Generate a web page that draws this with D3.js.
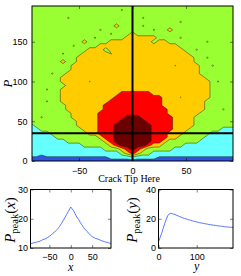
<!DOCTYPE html>
<html>
<head>
<meta charset="utf-8">
<script src="https://cdn.jsdelivr.net/npm/d3@7"></script>
<style>
html, body { margin: 0; padding: 0; background: #fff; }
svg { display: block; }
</style>
</head>
<body>
<svg id="chart" width="241" height="276"></svg>
<script>
var svg = d3.select("#chart"),
    sans = "'Liberation Sans', Arial, Helvetica, sans-serif",
    serif = "'Liberation Serif', 'Times New Roman', serif";

// sample grid of the contour map (5 units apart)
var gridX = d3.range(-95, 100, 5),
    gridY = d3.range(0, 200, 5);

// level of each sample, row by row (y = 0, 5, ... 195): [level, fromX, toX] painted in order
// 0 blue, 1 cyan, 2 green, 3 gold, 4 red, 5 dark red
var levelRows = [
    [],
    [[0.45, -95, 95], [1, -20, 20], [0, -85, -85], [1.5, 0, 0]],
    [[1, -95, 95], [2, -10, 15], [3, -5, 5], [4, 0, 0]],
    [[1, -95, 95], [2, -25, 35], [3, -10, 10], [4, -5, 5], [5, 0, 0]],
    [[1, -95, 95], [2, -45, 45], [3, -20, 25], [4, -15, 15], [5, -10, 10]],
    [[1, -95, 95], [2, -60, 60], [3, -25, 30], [4, -20, 25], [5, -15, 15]],
    [[1, -95, 95], [2, -70, 65], [3, -30, 40], [4, -25, 30], [5, -15, 15]],
    [[1, -95, 95], [2, -75, 70], [3, -40, 45], [4, -30, 30], [5, -15, 15]],
    [[1, -95, 95], [2, -85, 80], [3, -45, 50], [4, -30, 35], [5, -15, 15]],
    [[2, -95, 95], [1, -95, -95], [3, -50, 55], [4, -30, 35], [5, -15, 15]],
    [[2, -95, 95], [3, -50, 55], [4, -30, 35], [5, -10, 10]],
    [[2, -95, 95], [3, -55, 55], [4, -30, 35], [5, -5, 5], [2.6, -85, -85]],
    [[2, -95, 95], [3, -55, 60], [4, -30, 30]],
    [[2, -95, 95], [3, -60, 65], [4, -25, 30], [2.6, 85, 85]],
    [[2, -95, 95], [3, -60, 65], [4, -25, 25]],
    [[2, -95, 95], [3, -65, 65], [4, -20, 25], [2.6, -80, -80]],
    [[2, -95, 95], [3, -65, 70], [4, -15, 25], [2.45, 45, 45]],
    [[2, -95, 95], [3, -65, 70], [4, -10, 15]],
    [[2, -95, 95], [3, -65, 70], [2.6, -80, -80]],
    [[2, -95, 95], [3, -65, 70], [2, -65, -65]],
    [[2, -95, 95], [3, -65, 70], [2.45, -40, -40], [2.6, 80, 80]],
    [[2, -95, 95], [3, -65, 65]],
    [[2, -95, 95], [3, -60, 65], [2, 65, 65], [2.6, -75, -75]],
    [[2, -95, 95], [3, -55, 60]],
    [[2, -95, 95], [3, -55, 60], [2.45, 40, 40], [2.6, 75, 75]],
    [[2, -95, 95], [3, -50, 55], [3, -65, -65]],
    [[2, -95, 95], [3, -50, 55], [2.6, 70, 70]],
    [[2, -95, 95], [3, -45, 50], [2.45, -20, -20], [2.6, -65, -65]],
    [[2, -95, 95], [3, -40, 45], [2, -25, -25], [2.6, 60, 60]],
    [[2, -95, 95], [3, -30, 40], [2.6, -55, -55]],
    [[2, -95, 95], [3, -20, 30], [2, 20, 20], [3, -45, -45], [2.6, 70, 70]],
    [[2, -95, 95], [3, -5, 20], [2.6, -35, -35], [2.6, 45, 45]],
    [[2, -95, 95], [3, 0, 0], [2.6, -20, -20]],
    [[2, -95, 95], [3, 35, 35], [2.6, -30, -30], [2.6, 20, 20]],
    [[2, -95, 95], [3, -15, -15], [2.6, 10, 10]],
    [[2, -95, 95], [2.6, 45, 45]],
    [[2, -95, 95], [2.6, 10, 10], [2.6, -60, -60]],
    [[2, -95, 95]],
    [[2, -95, 95], [2.6, -10, -10]],
    [[2, -95, 95]]
];
var levelColors = ["#2f55e0", "#66ffff", "#99ff33", "#ffcc00", "#ff0000", "#6b0000"];
var crackX = 0, crackY = 35;

// peak profile along the horizontal line
var peakXPos = [-94, -90, -86, -82, -78, -74, -70, -66, -62, -58, -54, -50, -46, -42, -38, -34, -30, -26,
    -22, -18, -14, -10, -6, -2, 0, 2, 6, 10, 14, 18, 22, 26, 30, 34, 38, 42, 46, 50, 54, 58, 62, 66, 70,
    74, 78, 82, 86, 90, 94];
var peakXVal = [11.4, 11.6, 11.8, 11.9, 12.1, 12.2, 12.5, 12.8, 13.0, 13.2, 13.6, 14.0, 14.4, 15.0, 15.4,
    16.0, 16.6, 17.4, 18.3, 19.3, 20.3, 21.4, 22.4, 23.5, 24.0, 23.6, 22.9, 21.8, 20.6, 19.8, 18.8, 17.9,
    17.0, 16.3, 15.7, 15.0, 14.4, 13.9, 13.6, 13.3, 13.1, 12.9, 12.6, 12.4, 12.2, 12.0, 11.9, 11.7, 11.5];

// peak profile along the vertical line
var peakYPos = [0, 4, 8, 12, 16, 20, 24, 28, 32, 36, 40, 44, 48, 52, 56, 60, 64, 68, 72, 76, 80, 84, 88,
    92, 96, 100, 104, 108, 112, 116, 120, 124, 128, 132, 136, 140, 144, 148, 152, 156, 160, 164, 168, 172,
    176, 180, 184, 188, 192, 195];
var peakYVal = [4.2, 7.0, 9.9, 13.2, 16.5, 19.4, 22.0, 23.3, 23.7, 23.5, 23.1, 22.8, 22.3, 21.9, 21.4,
    21.0, 20.6, 20.2, 19.9, 19.5, 19.2, 19.0, 18.6, 18.3, 18.1, 17.8, 17.5, 17.3, 17.1, 16.9, 16.7, 16.5,
    16.3, 16.1, 15.9, 15.8, 15.6, 15.5, 15.3, 15.2, 15.0, 14.9, 14.8, 14.6, 14.5, 14.4, 14.3, 14.2, 14.1, 14.0];

var mainXTicks = [-50, 0, 50], mainYTicks = [0, 50, 100, 150],
    leftXTicks = [-50, 0, 50], leftYTicks = [10, 20, 30],
    rightXTicks = [0, 100], rightYTicks = [0, 20, 40];

// scales
var x = d3.scaleLinear().domain([-94, 94]).range([32, 233]),
    y = d3.scaleLinear().domain([0, 195]).range([161, 6]),
    lx = d3.scaleLinear().domain([-94, 94]).range([30.5, 111]),
    ly = d3.scaleLinear().domain([10, 30]).range([248, 189.5]),
    rx = d3.scaleLinear().domain([0, 195]).range([158.5, 233]),
    ry = d3.scaleLinear().domain([0, 40]).range([248, 189.5]);

function clipRect(id, xs, ys) {
    svg.append("clipPath").attr("id", id).append("rect")
        .attr("x", xs.range()[0]).attr("y", ys.range()[1])
        .attr("width", xs.range()[1] - xs.range()[0])
        .attr("height", ys.range()[0] - ys.range()[1]);
}

// ticks inside on all four sides, labels bottom and left
function drawAxes(xs, ys, xt, yt, padX, padY) {
    var g = svg.append("g");
    var axes = [
        [d3.axisBottom(xs).tickValues(xt).tickPadding(padX), "translate(0," + ys.range()[0] + ")"],
        [d3.axisLeft(ys).tickValues(yt).tickPadding(padY), "translate(" + xs.range()[0] + ",0)"],
        [d3.axisTop(xs).tickValues(xt).tickFormat(""), "translate(0," + ys.range()[1] + ")"],
        [d3.axisRight(ys).tickValues(yt).tickFormat(""), "translate(" + xs.range()[1] + ",0)"]
    ];
    axes.forEach(function(a) {
        var ag = g.append("g").attr("transform", a[1])
            .call(a[0].tickSizeInner(-3).tickSizeOuter(0));
        ag.select(".domain").remove();
        ag.selectAll("line").attr("stroke", "#000").attr("stroke-width", 0.5);
        ag.selectAll("text").style("font-family", sans).style("font-size", "9px").attr("fill", "#000");
    });
    g.append("rect")
        .attr("x", xs.range()[0]).attr("y", ys.range()[1])
        .attr("width", xs.range()[1] - xs.range()[0])
        .attr("height", ys.range()[0] - ys.range()[1])
        .attr("fill", "none").attr("stroke", "#000").attr("stroke-width", 1);
}

// ---- contour map
var values = [];
levelRows.forEach(function(spans) {
    var row = gridX.map(function() { return 0; });
    spans.forEach(function(s) {
        gridX.forEach(function(gx, i) {
            if (gx >= s[1] && gx <= s[2]) row[i] = s[0];
        });
    });
    values = values.concat(row);
});

var contours = d3.contours()
    .size([gridX.length, gridY.length])
    .thresholds([0.5, 1.5, 2.5, 3.5, 4.5])(values);

var toPx = d3.geoTransform({
    point: function(gx, gy) {
        this.stream.point(x(gridX[0] + (gx - 0.5) * 5), y(gridY[0] + (gy - 0.5) * 5));
    }
});
var geo = d3.geoPath(toPx);

clipRect("clipMain", x, y);
var map = svg.append("g").attr("clip-path", "url(#clipMain)");
map.append("rect")
    .attr("x", x.range()[0]).attr("y", y.range()[1])
    .attr("width", x.range()[1] - x.range()[0])
    .attr("height", y.range()[0] - y.range()[1])
    .attr("fill", levelColors[0]);
map.selectAll("path.level").data(contours).enter().append("path")
    .attr("class", "level")
    .attr("d", geo)
    .attr("fill", function(d, i) { return levelColors[i + 1]; })
    .attr("stroke", "#1e1e1e").attr("stroke-opacity", 0.8).attr("stroke-width", 0.6)
    .attr("stroke-linejoin", "round");

// crack tip cross
map.append("line").attr("x1", x(crackX)).attr("x2", x(crackX))
    .attr("y1", y.range()[0]).attr("y2", y.range()[1])
    .attr("stroke", "#000").attr("stroke-width", 2);
map.append("line").attr("x1", x.range()[0]).attr("x2", x.range()[1])
    .attr("y1", y(crackY)).attr("y2", y(crackY))
    .attr("stroke", "#000").attr("stroke-width", 2);

drawAxes(x, y, mainXTicks, mainYTicks, 7, 4.5);

svg.append("text").attr("x", 129).attr("y", 182).attr("text-anchor", "middle")
    .style("font-family", serif).style("font-size", "10px").text("Crack Tip Here");
svg.append("text").attr("transform", "translate(12," + ((y.range()[0] + y.range()[1]) / 2) + ") rotate(-90)")
    .attr("text-anchor", "middle").style("font-family", serif).style("font-style", "italic")
    .style("font-size", "13px").text("P");

// ---- profiles
var lineL = d3.line().x(function(d, i) { return lx(peakXPos[i]); }).y(function(d) { return ly(d); });
var lineR = d3.line().x(function(d, i) { return rx(peakYPos[i]); }).y(function(d) { return ry(d); });

clipRect("clipL", lx, ly);
clipRect("clipR", rx, ry);
svg.append("path").datum(peakXVal).attr("d", lineL).attr("clip-path", "url(#clipL)")
    .attr("fill", "none").attr("stroke", "#4466ff").attr("stroke-width", 0.9);
svg.append("path").datum(peakYVal).attr("d", lineR).attr("clip-path", "url(#clipR)")
    .attr("fill", "none").attr("stroke", "#4466ff").attr("stroke-width", 0.9);

drawAxes(lx, ly, leftXTicks, leftYTicks, 5.5, 2.5);
drawAxes(rx, ry, rightXTicks, rightYTicks, 5.5, 2.5);

function peakLabel(cx, cy, v) {
    var t = svg.append("text").attr("transform", "translate(" + cx + "," + cy + ") rotate(-90)")
        .attr("text-anchor", "middle").style("font-family", serif).style("font-size", "15px");
    t.append("tspan").style("font-style", "italic").text("P");
    t.append("tspan").attr("dy", 3).style("font-size", "10.5px").text("peak");
    t.append("tspan").attr("dy", -3).text("(");
    t.append("tspan").style("font-style", "italic").text(v);
    t.append("tspan").text(")");
}
peakLabel(15, 220, "x");
peakLabel(137, 220, "y");

svg.append("text").attr("x", (lx.range()[0] + lx.range()[1]) / 2).attr("y", 270.5)
    .attr("text-anchor", "middle").style("font-family", serif).style("font-style", "italic")
    .style("font-size", "12px").text("x");
svg.append("text").attr("x", (rx.range()[0] + rx.range()[1]) / 2 + 1).attr("y", 270)
    .attr("text-anchor", "middle").style("font-family", serif).style("font-style", "italic")
    .style("font-size", "12px").text("y");
</script>
</body>
</html>
